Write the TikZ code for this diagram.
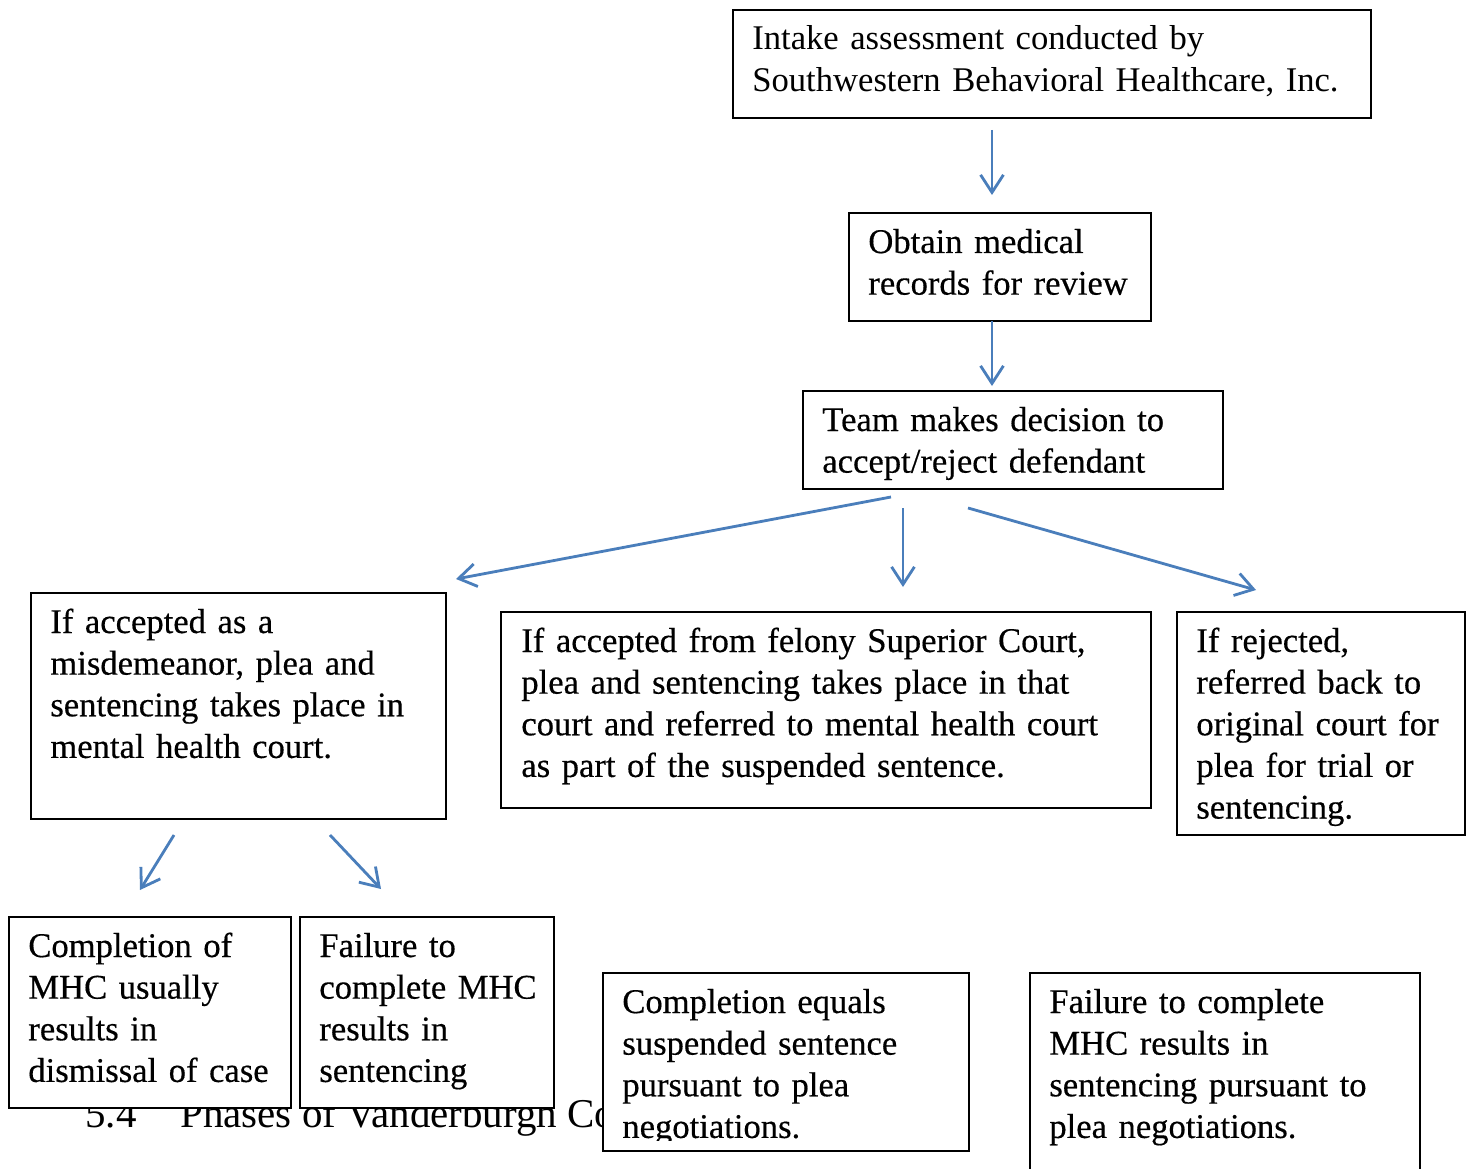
\documentclass[tikz,border=0pt]{standalone}
\usepackage{fontspec}
\setmainfont{Liberation Serif}
\newfontfamily\bodyfont[WordSpace=0.85,FakeBold=0.4]{Liberation Serif}
\usetikzlibrary{arrows.meta}
\definecolor{flowblue}{RGB}{74,126,187}
\tikzset{
  box/.style={draw=black,line width=1pt,fill=white,rectangle,inner sep=0pt,anchor=north west},
  txt/.style={anchor=base west,align=left,text width=12.6cm,inner sep=0pt,font=\bodyfont\fontsize{19.7}{23.7}\selectfont},
  toptxt/.style={txt,font=\fontsize{19.7}{23.7}\selectfont},
  head/.style={anchor=base west,inner sep=0pt,font=\fontsize{23.3}{28}\selectfont},
  flow/.style={draw=flowblue,line width=1.6pt,-{Straight Barb[length=10pt,width=13pt]}},
}
\begin{document}
\begin{tikzpicture}[x=0.02cm,y=-0.02cm]
  \useasboundingbox (0,0) rectangle (1471,1169);
  % section heading running under the lower boxes
  \node[head] (heading) at (85,1127) {5.4\hspace{0.88cm}Phases of Vanderburgh Co};
  % top of the chain
  \node[box,minimum width=12.76cm,minimum height=2.16cm] (intake) at (732,9) {};
  \node[toptxt] (intake-t) at (752,50) {Intake assessment conducted by\\Southwestern Behavioral Healthcare, Inc.};
  \node[box,minimum width=6.04cm,minimum height=2.16cm] (records) at (848,212) {};
  \node[txt] (records-t) at (868,253) {Obtain medical\\records for review};
  \node[box,minimum width=8.40cm,minimum height=1.96cm] (decision) at (802,390) {};
  \node[txt] (decision-t) at (822,431) {Team makes decision to\\accept/reject defendant};
  % three outcomes
  \node[box,minimum width=8.30cm,minimum height=4.52cm] (misd) at (30,592) {};
  \node[txt] (misd-t) at (50,633) {If accepted as a\\misdemeanor, plea and\\sentencing takes place in\\mental health court.};
  \node[box,minimum width=13.00cm,minimum height=3.92cm] (felony) at (500,611) {};
  \node[txt] (felony-t) at (521,652) {If accepted from felony Superior Court,\\plea and sentencing takes place in that\\court and referred to mental health court\\as part of the suspended sentence.};
  \node[box,minimum width=5.76cm,minimum height=4.46cm] (rejected) at (1176,611) {};
  \node[txt] (rejected-t) at (1196,652) {If rejected,\\referred back to\\original court for\\plea for trial or\\sentencing.};
  % results
  \node[box,minimum width=5.64cm,minimum height=3.82cm] (dismissal) at (8,916) {};
  \node[txt] (dismissal-t) at (28,957) {Completion of\\MHC usually\\results in\\dismissal of case};
  \node[box,minimum width=5.08cm,minimum height=3.82cm] (failmhc) at (299,916) {};
  \node[txt] (failmhc-t) at (319,957) {Failure to\\complete MHC\\results in\\sentencing};
  \node[box,minimum width=7.32cm,minimum height=3.56cm] (suspended) at (602,972) {};
  \node[txt] (suspended-t) at (622,1013) {Completion equals\\suspended sentence\\pursuant to plea\\negotiations.};
  \fill[white] (603.5,1141) rectangle (966.5,1149);
  \node[box,minimum width=7.80cm,minimum height=4.80cm] (pleaneg) at (1029,972) {};
  \node[txt] (pleaneg-t) at (1049,1013) {Failure to complete\\MHC results in\\sentencing pursuant to\\plea negotiations.};
  % arrow ends
  \coordinate (intake-out) at (992,130);
  \coordinate (records-in) at (992,195);
  \coordinate (records-out) at (992,321);
  \coordinate (decision-in) at (992,386);
  \coordinate (decision-l) at (891,497);
  \coordinate (misd-in) at (456,579);
  \coordinate (decision-m) at (903,508);
  \coordinate (felony-in) at (903,587);
  \coordinate (decision-r) at (968,508);
  \coordinate (rejected-in) at (1256,590);
  \coordinate (misd-l) at (174,835);
  \coordinate (dismissal-in) at (140,890);
  \coordinate (misd-r) at (330,835);
  \coordinate (failmhc-in) at (381,889);
  \draw[flow] (intake-out) -- (records-in);
  \draw[flow] (records-out) -- (decision-in);
  \draw[flow] (decision-l) -- (misd-in);
  \draw[flow] (decision-m) -- (felony-in);
  \draw[flow] (decision-r) -- (rejected-in);
  \draw[flow] (misd-l) -- (dismissal-in);
  \draw[flow] (misd-r) -- (failmhc-in);
\end{tikzpicture}
\end{document}
